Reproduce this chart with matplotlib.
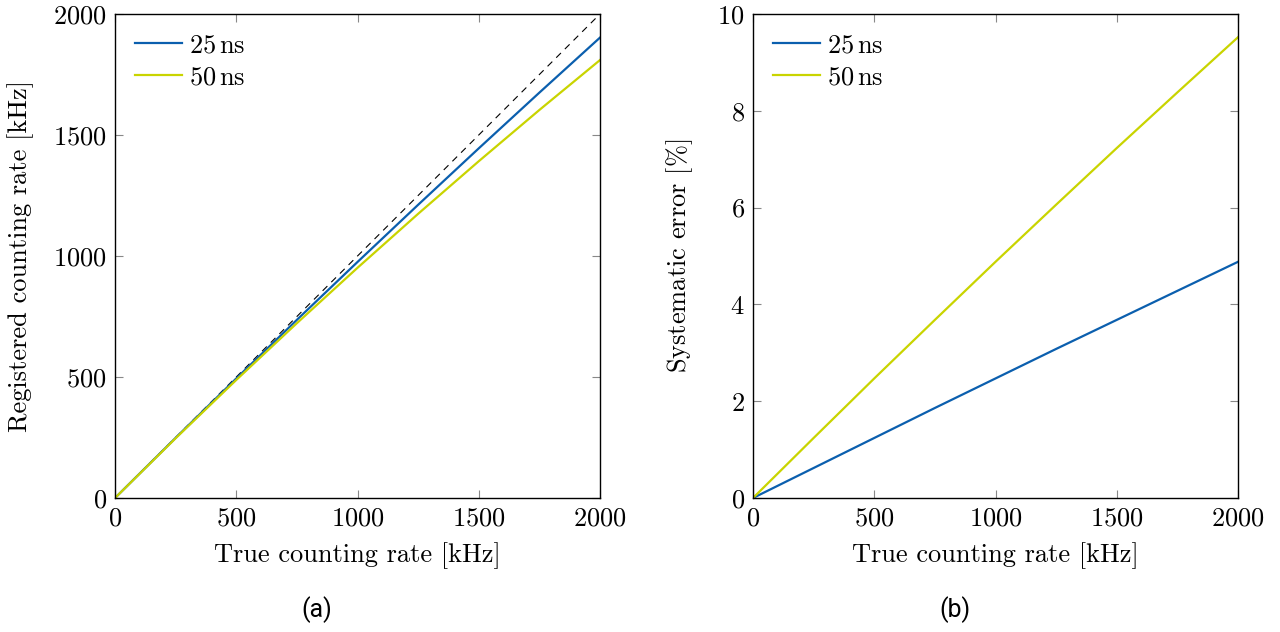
import matplotlib
matplotlib.use("Agg")
import matplotlib.pyplot as plt

plt.rcParams["font.family"] = ["cmr10", "DejaVu Serif"]
plt.rcParams["mathtext.fontset"] = "cm"
plt.rcParams["axes.formatter.use_mathtext"] = True

# values
true_rate = [0, 250, 500, 750, 1000, 1250, 1500, 1750, 2000]
reg_25 = [0, 248.4, 493.8, 736.1, 975.3, 1211.6, 1444.8, 1675.1, 1902.5]
reg_50 = [0, 246.9, 487.7, 722.4, 951.2, 1174.3, 1391.6, 1603.4, 1809.7]
err_25 = [0, 0.62, 1.24, 1.86, 2.47, 3.08, 3.68, 4.28, 4.88]
err_50 = [0, 1.24, 2.47, 3.68, 4.88, 6.06, 7.23, 8.38, 9.52]
labels = [r"$25\,\mathrm{ns}$", r"$50\,\mathrm{ns}$"]

blue = "#0b5fae"
yellow = "#c9d400"
fs = 19

fig = plt.figure(figsize=(12.8, 6.32), dpi=100)
ax1 = fig.add_axes([115 / 1280, 134 / 632, 485 / 1280, 484 / 632])
ax2 = fig.add_axes([753 / 1280, 134 / 632, 485 / 1280, 484 / 632])


def style(ax):
    ax.tick_params(direction="in", top=True, right=True, length=6, width=0.8,
                   color="#888888", labelsize=fs, pad=6)
    for s in ax.spines.values():
        s.set_linewidth(1.0)
    ax.set_xlim(0, 2000)
    ax.set_xticks([0, 500, 1000, 1500, 2000])
    ax.set_xlabel("True counting rate [kHz]", fontsize=fs, labelpad=9)
    ax.legend(loc="upper left", frameon=False, fontsize=fs, handlelength=1.8,
              handletextpad=0.25, labelspacing=0.3, borderaxespad=0.35)


ax1.plot(true_rate, true_rate, color="black", lw=0.8, ls=(0, (6, 5)))
ax1.plot(true_rate, reg_25, color=blue, lw=1.6, label=labels[0])
ax1.plot(true_rate, reg_50, color=yellow, lw=1.6, label=labels[1])
ax1.set_ylim(0, 2000)
ax1.set_yticks([0, 500, 1000, 1500, 2000])
ax1.set_ylabel("Registered counting rate [kHz]", fontsize=fs, labelpad=14)
style(ax1)

ax2.plot(true_rate, err_25, color=blue, lw=1.6, label=labels[0])
ax2.plot(true_rate, err_50, color=yellow, lw=1.6, label=labels[1])
ax2.set_ylim(0, 10)
ax2.set_yticks([0, 2, 4, 6, 8, 10])
ax2.set_ylabel(r"Systematic error [$\%$]", fontsize=fs, labelpad=16)
style(ax2)

fig.text(317 / 1280, 22 / 632, "(a)", family="Roboto", fontsize=18, ha="center", va="center")
fig.text(955 / 1280, 22 / 632, "(b)", family="Roboto", fontsize=18, ha="center", va="center")

fig.savefig("out.png", dpi=100)
